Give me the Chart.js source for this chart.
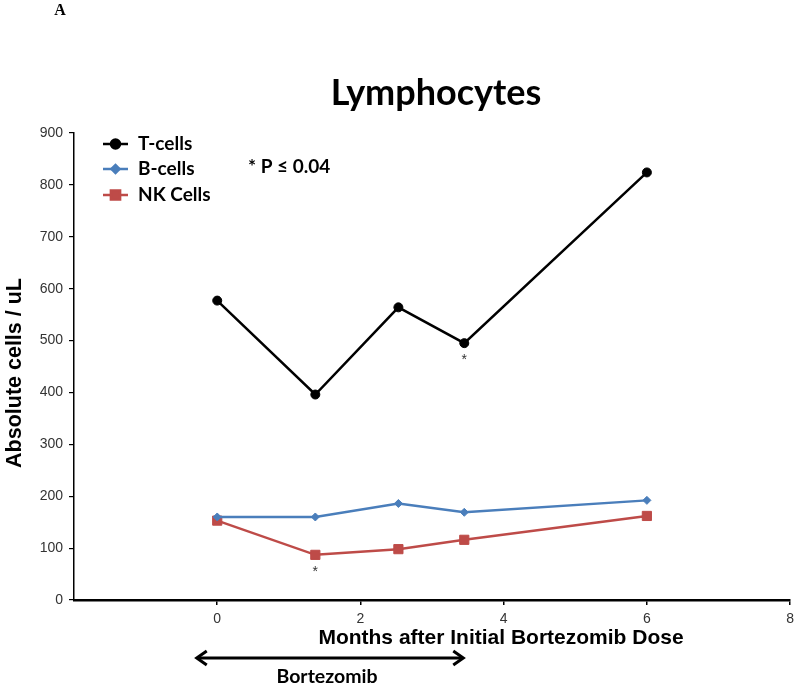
<!DOCTYPE html>
<html>
<head>
<meta charset="utf-8">
<script src="https://cdn.jsdelivr.net/npm/chart.js@4.4.1/dist/chart.umd.min.js"></script>
<style>
  html, body { margin: 0; padding: 0; background: #fff; }
  #wrap { width: 800px; height: 686px; }
</style>
</head>
<body>
<div id="wrap"><canvas id="chart" width="800" height="686"></canvas></div>
<script>
// ---------- DATA ----------
const months   = [0, 1.37, 2.53, 3.45, 6];
const tCells   = [577, 396, 564, 495, 824];
const bCells   = [160, 160, 186, 169, 192];
const nkCells  = [153, 87, 98, 116, 162];
const xTicks   = [0, 2, 4, 6, 8];
const yTicks   = [0, 100, 200, 300, 400, 500, 600, 700, 800, 900];
const seriesNames = ["T-cells", "B-cells", "NK Cells"];
// significant points: [dataset index, point index]
const sigMarks = [[0, 3], [2, 1]];
const bortezomibSpan = [-0.3, 3.45];

const BLACK = "#000000";
const BLUE  = "#4A7EBB";
const RED   = "#BE4B48";

const pts = (ys) => months.map((m, i) => ({ x: m, y: ys[i] }));

const styles = [
  { color: BLACK, point: "circle",  radius: 4.5 },
  { color: BLUE,  point: "rectRot", radius: 4 },
  { color: RED,   point: "rect",    radius: 6.5 },
];

const datasets = [tCells, bCells, nkCells].map((ys, i) => ({
  label: seriesNames[i],
  data: pts(ys),
  borderColor: styles[i].color,
  backgroundColor: styles[i].color,
  borderWidth: 2.5,
  pointStyle: styles[i].point,
  pointRadius: styles[i].radius,
  pointBorderWidth: 1,
  tension: 0,
}));

// ---------- EXTRA DRAWING ----------
const decorations = {
  id: "decorations",
  afterDraw(chart) {
    const ctx = chart.ctx;
    const xs = chart.scales.x, ys = chart.scales.y;
    ctx.save();
    ctx.fillStyle = "#000";
    ctx.textAlign = "center";
    ctx.textBaseline = "middle";

    // panel letter
    ctx.font = "bold 16px 'Liberation Serif'";
    ctx.fillText("A", 60, 11);

    // title
    ctx.textBaseline = "alphabetic";
    ctx.font = "bold 36px Lato";
    ctx.fillText("Lymphocytes", 436, 105);
    ctx.textBaseline = "middle";

    // legend
    ctx.textAlign = "left";
    ctx.font = "bold 19px Lato";
    [144, 169, 195].forEach((y, i) => {
      ctx.strokeStyle = styles[i].color;
      ctx.lineWidth = 2.5;
      ctx.beginPath(); ctx.moveTo(103, y); ctx.lineTo(128, y); ctx.stroke();
      ctx.fillStyle = styles[i].color;
      Chart.helpers.drawPoint(ctx, { pointStyle: styles[i].point, radius: styles[i].radius, borderWidth: 1 }, 115.5, y);
      ctx.fillStyle = "#000";
      ctx.fillText(seriesNames[i], 138, y);
    });
    ctx.fillText("* P \u2264 0.04", 248, 167);

    // asterisks under significant points
    ctx.textAlign = "center";
    ctx.fillStyle = "#333";
    ctx.font = "14px 'Liberation Sans'";
    sigMarks.forEach(([d, i]) => {
      const px = xs.getPixelForValue(months[i]);
      const py = ys.getPixelForValue(chart.data.datasets[d].data[i].y);
      ctx.fillText("*", px, py + 17);
    });

    // axis titles
    ctx.fillStyle = "#000";
    ctx.font = "bold 21px 'Liberation Sans'";
    ctx.fillText("Months after Initial Bortezomib Dose", 501, 638);
    ctx.save();
    ctx.translate(15, 373);
    ctx.rotate(-Math.PI / 2);
    ctx.font = "bold 21.5px 'Liberation Sans'";
    ctx.fillText("Absolute cells / uL", 0, 0);
    ctx.restore();

    // treatment arrow
    const ax0 = xs.getPixelForValue(bortezomibSpan[0]);
    const ax1 = xs.getPixelForValue(bortezomibSpan[1]);
    const ay = 658;
    ctx.strokeStyle = "#000";
    ctx.lineWidth = 3;
    ctx.lineJoin = "miter";
    ctx.beginPath(); ctx.moveTo(ax0 + 2, ay); ctx.lineTo(ax1 - 2, ay); ctx.stroke();
    ctx.beginPath();
    ctx.moveTo(ax0 + 11, ay - 7); ctx.lineTo(ax0 + 1, ay); ctx.lineTo(ax0 + 11, ay + 7);
    ctx.moveTo(ax1 - 11, ay - 7); ctx.lineTo(ax1 - 1, ay); ctx.lineTo(ax1 - 11, ay + 7);
    ctx.stroke();
    ctx.font = "bold 19.5px Lato";
    ctx.fillText("Bortezomib", 327, 677);
    ctx.restore();
  }
};

// ---------- CHART ----------
new Chart(document.getElementById("chart").getContext("2d"), {
  type: "line",
  data: { datasets },
  options: {
    responsive: false,
    animation: false,
    layout: { padding: { top: 133, right: 7, left: 0, bottom: 0 } },
    plugins: { legend: { display: false }, tooltip: { enabled: false } },
    scales: {
      x: {
        type: "linear",
        min: -2, max: 8,
        afterBuildTicks: (s) => { s.ticks = xTicks.map(v => ({ value: v })); },
        afterFit: (s) => { s.height = 86; },
        grid: { drawOnChartArea: false, drawTicks: true, tickLength: 5, color: "#000", lineWidth: 1.5 },
        border: { color: "#000", width: 2.5 },
        ticks: { color: "#333", font: { family: "'Liberation Sans'", size: 14 }, padding: 6, maxRotation: 0 },
      },
      y: {
        min: 0, max: 900,
        afterBuildTicks: (s) => { s.ticks = yTicks.map(v => ({ value: v })); },
        afterFit: (s) => { s.width = 74; },
        grid: { drawOnChartArea: false, drawTicks: true, tickLength: 5, color: "#000", lineWidth: 1.2 },
        border: { color: "#000", width: 1.5 },
        ticks: { color: "#333", font: { family: "'Liberation Sans'", size: 14 }, padding: 6 },
      },
    },
  },
  plugins: [decorations],
});
</script>
</body>
</html>
